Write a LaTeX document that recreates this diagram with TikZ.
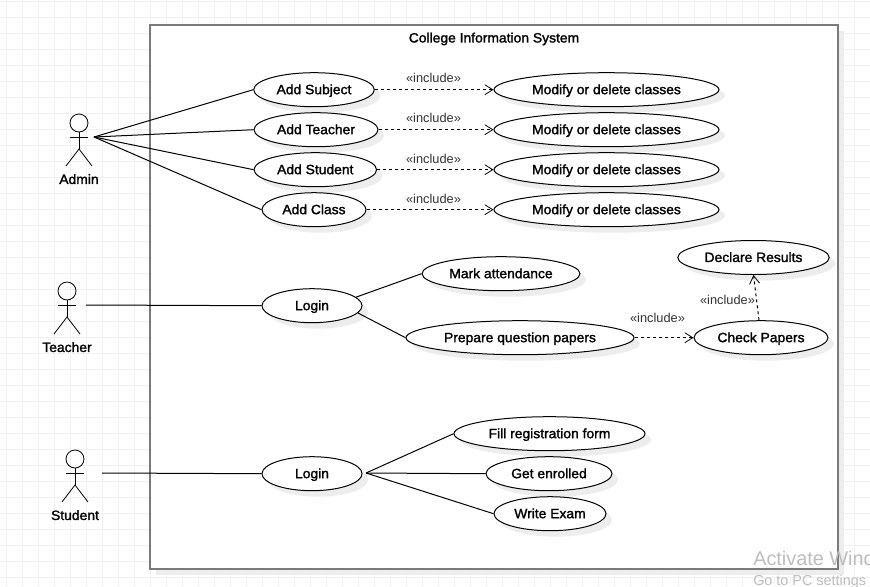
\documentclass[tikz,border=0pt]{standalone}
\usepackage{fontspec}
\setmainfont{Liberation Sans}
\newfontfamily\ucfont[FakeBold=1.6,FakeStretch=1.03]{Liberation Sans}
\usetikzlibrary{shapes.geometric,arrows.meta,shadows}
\definecolor{gridc}{HTML}{F0F0F0}
\definecolor{shadowc}{HTML}{EDEDED}
\definecolor{framec}{HTML}{7A7A7A}
\definecolor{inclc}{HTML}{333333}
\definecolor{wmc}{HTML}{BDBDBD}
\tikzset{
  px/.style={x=0.75pt,y=-0.75pt},
  gridline/.style={gridc,line width=0.75pt},
  ucase/.style={ellipse,draw=black,fill=white,line width=0.75pt,inner sep=0pt,
    minimum width=#1*0.75pt,minimum height=25.5pt,text height=8pt,text depth=1.3pt,
    font=\fontsize{10.1pt}{11pt}\ucfont,
    drop shadow={shadow xshift=4.5pt,shadow yshift=-4.5pt,fill=shadowc,opacity=1}},
  sysbox/.style={draw=framec,fill=white,line width=1.5pt,
    minimum width=516pt,minimum height=408pt,inner sep=0pt,
    drop shadow={shadow xshift=4.5pt,shadow yshift=-4.5pt,fill=shadowc,opacity=1}},
  title/.style={font=\fontsize{10.1pt}{11pt}\ucfont,text height=8pt,text depth=1.3pt},
  actorlabel/.style={font=\fontsize{10.1pt}{11pt}\ucfont,text height=8pt,text depth=1.3pt},
  incl/.style={font=\fontsize{9.6pt}{11pt}\selectfont,text=inclc},
  assoc/.style={black,line width=0.75pt},
  stick/.style={black,line width=0.6pt},
  dep/.style={black,line width=0.75pt,dash pattern=on 2.25pt off 2.25pt,
    -{Straight Barb[length=6pt,width=7.5pt,line width=0.6pt]}},
  wm/.style={text=wmc,anchor=base west,inner sep=0pt},
}
\newcommand{\actorfig}[3]{%
  \draw[stick] (#2,#3) circle[radius=9];
  \draw[stick] (#2,#3+9) -- (#2,#3+26);
  \draw[stick] (#2-9,#3+14) -- (#2+9,#3+14);
  \draw[stick] (#2-13,#3+43) -- (#2,#3+26) -- (#2+13,#3+43);
}
\begin{document}
\begin{tikzpicture}[px]
\useasboundingbox (0,0) rectangle (870,586);
\clip (0,0) rectangle (870,586);
\fill[white] (0,0) rectangle (870,586);
\foreach \i in {0,...,54} \draw[gridline] ({6.5+16*\i},0) -- ({6.5+16*\i},586);
\foreach \i in {0,...,36} \draw[gridline] (0,{1+16*\i}) -- (870,{1+16*\i});

\node[sysbox] (sys) at (494,297) {};
\node[title] (systitle) at (494,38) {College Information System};

% actors
\actorfig{admin}{79}{123}
\actorfig{teacher}{67}{291}
\actorfig{student}{75}{459}
\coordinate (adminhand) at (94,137);
\coordinate (teacherhand) at (86,305);
\coordinate (studenthand) at (102,473);
\node[actorlabel] (adminl) at (79,179.5) {Admin};
\node[actorlabel] (teacherl) at (67,347.5) {Teacher};
\node[actorlabel] (studentl) at (75,515.5) {Student};

% use cases
\node[ucase=120.5] (subject) at (314,89.7) {Add Subject};
\node[ucase=124] (teacher) at (316,129.7) {Add Teacher};
\node[ucase=122.5] (student) at (315.3,169.7) {Add Student};
\node[ucase=104] (class) at (314,209.7) {Add Class};
\node[ucase=225] (m1) at (606.5,89.7) {Modify or delete classes};
\node[ucase=225] (m2) at (606.5,129.7) {Modify or delete classes};
\node[ucase=225] (m3) at (606.5,169.7) {Modify or delete classes};
\node[ucase=225] (m4) at (606.5,209.7) {Modify or delete classes};
\node[ucase=100] (login1) at (312,305.7) {Login};
\node[ucase=158] (mark) at (501,273.7) {Mark attendance};
\node[ucase=228] (prepare) at (520,337.7) {Prepare question papers};
\node[ucase=134] (check) at (761,337.7) {Check Papers};
\node[ucase=151.5] (declare) at (753.5,257.5) {Declare Results};
\node[ucase=100] (login2) at (312,473.7) {Login};
\node[ucase=191] (fill) at (549.5,433.7) {Fill registration form};
\node[ucase=126] (enrol) at (549,473.7) {Get enrolled};
\node[ucase=112] (exam) at (550,513.7) {Write Exam};

% associations
\draw[assoc] (adminhand) -- (subject.west);
\draw[assoc] (adminhand) -- (teacher.west);
\draw[assoc] (adminhand) -- (student.west);
\draw[assoc] (adminhand) -- (class.west);
\draw[assoc] (teacherhand) -- (login1.west);
\draw[assoc] (studenthand) -- (login2.west);
\draw[assoc] (login1.11) -- (mark.west);
\draw[assoc] (login1.-9) -- (prepare.west);
\coordinate (login2out) at (366,473);
\draw[assoc] (login2out) -- (fill.west);
\draw[assoc] (login2out) -- (enrol.west);
\draw[assoc] (login2out) -- (exam.west);

% includes
\draw[dep] (subject.east) -- (m1.west);
\draw[dep] (teacher.east) -- (m2.west);
\draw[dep] (student.east) -- (m3.west);
\draw[dep] (class.east) -- (m4.west);
\draw[dep] (prepare.east) -- (check.west);
\draw[dep] (check.north) ++(-2,0) coordinate (checktop) (checktop) -- (declare.south);
\node[incl] (i1) at (433.5,77.5) {«include»};
\node[incl] (i2) at (433.5,117.5) {«include»};
\node[incl] (i3) at (433.5,158.5) {«include»};
\node[incl] (i4) at (433.5,198.5) {«include»};
\node[incl] (i5) at (657.5,317.5) {«include»};
\node[incl] (i6) at (727.5,299.5) {«include»};

% watermark
\node[wm,font=\fontsize{14.9pt}{16pt}\selectfont] (wm1) at (753,565) {Activate Windows};
\node[wm,font=\fontsize{10.8pt}{12pt}\selectfont] (wm2) at (753,585) {Go to PC settings};
\end{tikzpicture}
\end{document}
